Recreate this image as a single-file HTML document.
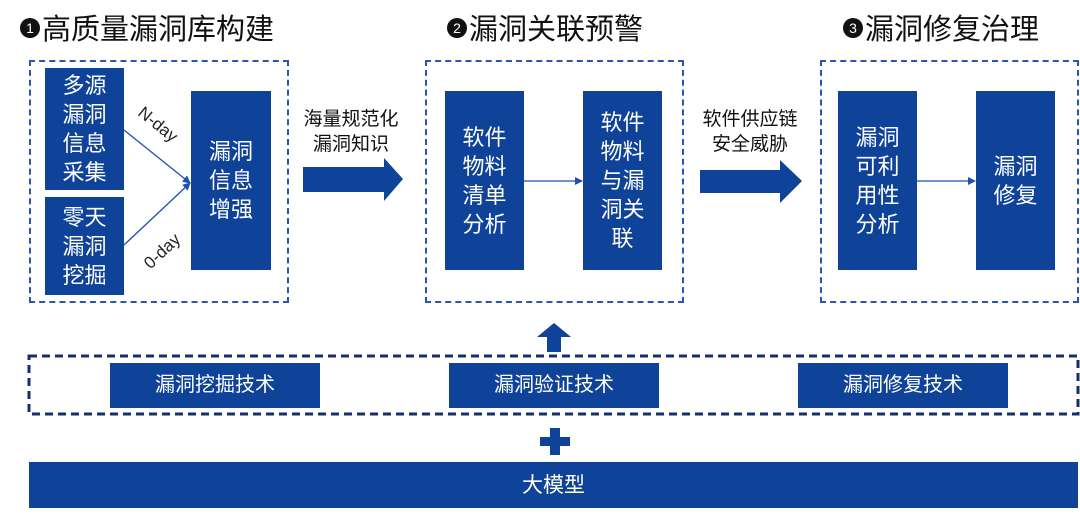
<!DOCTYPE html>
<html><head><meta charset="utf-8"><style>
body{margin:0;width:1080px;height:515px;background:#fff;position:relative;overflow:hidden;font-family:"Liberation Sans","Noto Sans CJK SC",sans-serif}
.a{position:absolute}
.b{position:absolute;background:#0f4299;color:#fff;display:flex;align-items:center;justify-content:center;text-align:center;font-size:22px;line-height:29px}
.t{position:absolute;font-size:29px;color:#111;white-space:nowrap;line-height:34px}
.d{position:absolute;border:2px dashed #2a56b0;box-sizing:border-box}
.n{display:inline-block;width:20px;height:20px;border-radius:50%;background:#111;color:#fff;font-size:14px;line-height:20px;text-align:center;vertical-align:middle;margin-right:2px;position:relative;top:-3px}
.l{position:absolute;font-size:19px;color:#111;text-align:center;line-height:25px;white-space:nowrap}
</style></head><body>
<div class="t" style="left:20px;top:13px"><span class="n">1</span>高质量漏洞库构建</div>
<div class="t" style="left:447px;top:13px"><span class="n">2</span>漏洞关联预警</div>
<div class="t" style="left:843px;top:13px"><span class="n">3</span>漏洞修复治理</div>

<div class="d" style="left:29px;top:60px;width:260px;height:243px"></div>
<div class="d" style="left:425px;top:60px;width:259px;height:243px"></div>
<div class="d" style="left:820px;top:60px;width:259px;height:243px"></div>

<div class="b" style="left:45px;top:68px;width:79px;height:122px">多源<br>漏洞<br>信息<br>采集</div>
<div class="b" style="left:45px;top:197px;width:79px;height:98px">零天<br>漏洞<br>挖掘</div>
<div class="b" style="left:191px;top:91px;width:80px;height:179px">漏洞<br>信息<br>增强</div>
<div class="b" style="left:445px;top:91px;width:79px;height:179px">软件<br>物料<br>清单<br>分析</div>
<div class="b" style="left:583px;top:91px;width:79px;height:179px">软件<br>物料<br>与漏<br>洞关<br>联</div>
<div class="b" style="left:838px;top:91px;width:79px;height:179px">漏洞<br>可利<br>用性<br>分析</div>
<div class="b" style="left:976px;top:91px;width:79px;height:179px">漏洞<br>修复</div>

<svg class="a" style="left:0;top:0" width="1080" height="515">
<defs><marker id="m" markerWidth="8" markerHeight="8" refX="7" refY="4" orient="auto" markerUnits="userSpaceOnUse"><path d="M0,0L8,4L0,8z" fill="#1f4fb0"/></marker></defs>
<line x1="124" y1="130" x2="190" y2="183" stroke="#1f4fb0" stroke-width="1.3" marker-end="url(#m)"/>
<line x1="124" y1="245" x2="190" y2="183" stroke="#1f4fb0" stroke-width="1.3" marker-end="url(#m)"/>
<line x1="524" y1="181" x2="582" y2="181" stroke="#1f4fb0" stroke-width="1.3" marker-end="url(#m)"/>
<line x1="917" y1="181" x2="975" y2="181" stroke="#1f4fb0" stroke-width="1.3" marker-end="url(#m)"/>
<path d="M303,167H384V158L403,179L384,201V192H303Z" fill="#0f4299"/>
<path d="M700,170H780V160L802,181L780,203V193H700Z" fill="#0f4299"/>
<path d="M554,323L571,337H561V352H547V337H537Z" fill="#0f4299"/>
<path d="M550,428H560V437H570V446H560V455H550V446H540V437H550Z" fill="#0f4299"/>
<rect x="29" y="356" width="1049" height="58" fill="none" stroke="#14306b" stroke-width="3" stroke-dasharray="8,5"/>
<text x="125" y="128" transform="rotate(39 150 138)" font-size="17" fill="#222" font-family="Liberation Sans,sans-serif">N-day</text>
<text x="130" y="262" transform="rotate(-43 150 240)" font-size="17" fill="#222" font-family="Liberation Sans,sans-serif">0-day</text>
</svg>

<div class="l" style="left:296px;top:107px;width:110px">海量规范化<br>漏洞知识</div>
<div class="l" style="left:690px;top:107px;width:120px">软件供应链<br>安全威胁</div>

<div class="b" style="left:110px;top:363px;width:210px;height:45px;font-size:20px">漏洞挖掘技术</div>
<div class="b" style="left:449px;top:363px;width:210px;height:45px;font-size:20px">漏洞验证技术</div>
<div class="b" style="left:798px;top:363px;width:210px;height:45px;font-size:20px">漏洞修复技术</div>
<div class="b" style="left:29px;top:462px;width:1049px;height:46px;font-size:21px">大模型</div>
</body></html>
